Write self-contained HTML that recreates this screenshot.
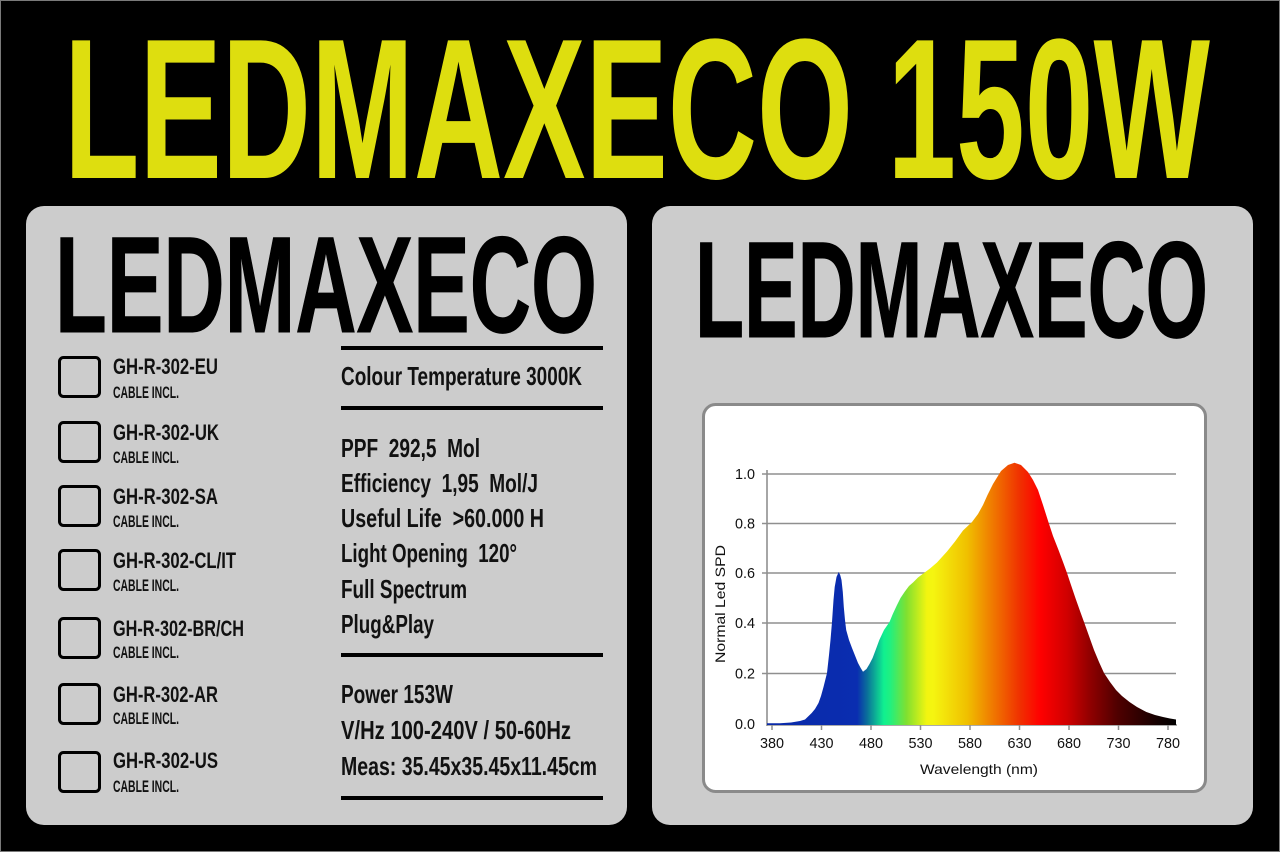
<!DOCTYPE html>
<html><head><meta charset="utf-8"><style>
html,body{margin:0;padding:0;background:#000;}
svg{display:block;}
text{white-space:pre;}
.f{font-family:'Liberation Sans Narrow','Liberation Sans',sans-serif;}
</style></head><body>
<svg width="1280" height="852" viewBox="0 0 1280 852" xmlns="http://www.w3.org/2000/svg">
<defs>
<linearGradient id="spec" gradientUnits="userSpaceOnUse" x1="767" y1="0" x2="1177" y2="0">
<stop offset="0" stop-color="#0a2aa8"/>
<stop offset="0.22" stop-color="#0a2db0"/>
<stop offset="0.244" stop-color="#0a6f9a"/>
<stop offset="0.285" stop-color="#10f090"/>
<stop offset="0.3" stop-color="#20f080"/>
<stop offset="0.34" stop-color="#80e030"/>
<stop offset="0.39" stop-color="#f2f510"/>
<stop offset="0.405" stop-color="#f5f510"/>
<stop offset="0.488" stop-color="#f0c000"/>
<stop offset="0.544" stop-color="#f08000"/>
<stop offset="0.617" stop-color="#f03000"/>
<stop offset="0.666" stop-color="#ff0000"/>
<stop offset="0.732" stop-color="#d00000"/>
<stop offset="0.788" stop-color="#900000"/>
<stop offset="0.854" stop-color="#500000"/>
<stop offset="0.951" stop-color="#150000"/>
<stop offset="1" stop-color="#000000"/>
</linearGradient>
</defs>
<rect x="0" y="0" width="1280" height="852" fill="#000"/>
<rect x="0.5" y="0.5" width="1279" height="851" fill="none" stroke="#7a7a7a" stroke-width="1"/>

<!-- Title -->
<text class="f" x="64" y="178" font-size="200" font-weight="bold" fill="#dede0f" textLength="1146" lengthAdjust="spacingAndGlyphs">LEDMAXECO 150W</text>

<!-- Panels -->
<rect x="26" y="206" width="601" height="619" rx="18" ry="18" fill="#cccccc"/>
<rect x="652" y="206" width="601" height="619" rx="18" ry="18" fill="#cccccc"/>

<!-- Left panel -->
<text class="f" x="55" y="332" font-size="137" font-weight="bold" fill="#000" stroke="#000" stroke-width="1" textLength="542" lengthAdjust="spacingAndGlyphs">LEDMAXECO</text>

<g fill="#000">
<rect x="341" y="346" width="262" height="4"/>
<rect x="341" y="406" width="262" height="4"/>
<rect x="341" y="653" width="262" height="4"/>
<rect x="341" y="796" width="262" height="4"/>
</g>

<g class="f" font-weight="bold" fill="#111" font-size="26">
<text x="341" y="385" textLength="241" lengthAdjust="spacingAndGlyphs">Colour Temperature 3000K</text>
<text x="341" y="457" textLength="139" lengthAdjust="spacingAndGlyphs">PPF  292,5  Mol</text>
<text x="341" y="492" textLength="197" lengthAdjust="spacingAndGlyphs">Efficiency  1,95  Mol/J</text>
<text x="341" y="527" textLength="203" lengthAdjust="spacingAndGlyphs">Useful Life  &gt;60.000 H</text>
<text x="341" y="562" textLength="176" lengthAdjust="spacingAndGlyphs">Light Opening  120°</text>
<text x="341" y="598" textLength="126" lengthAdjust="spacingAndGlyphs">Full Spectrum</text>
<text x="341" y="633" textLength="93" lengthAdjust="spacingAndGlyphs">Plug&amp;Play</text>
<text x="341" y="703" textLength="112" lengthAdjust="spacingAndGlyphs">Power 153W</text>
<text x="341" y="739" textLength="230" lengthAdjust="spacingAndGlyphs">V/Hz 100-240V / 50-60Hz</text>
<text x="341" y="775" textLength="256" lengthAdjust="spacingAndGlyphs">Meas: 35.45x35.45x11.45cm</text>
</g>

<!-- Checkboxes -->
<g fill="none" stroke="#000" stroke-width="3">
<rect x="59.5" y="357.5" width="40" height="39" rx="4"/>
<rect x="59.5" y="422.5" width="40" height="39" rx="4"/>
<rect x="59.5" y="486.5" width="40" height="39" rx="4"/>
<rect x="59.5" y="550.5" width="40" height="39" rx="4"/>
<rect x="59.5" y="618.5" width="40" height="39" rx="4"/>
<rect x="59.5" y="684.5" width="40" height="39" rx="4"/>
<rect x="59.5" y="752.5" width="40" height="39" rx="4"/>
</g>
<g class="f" font-weight="bold" fill="#111" font-size="22">
<text x="113" y="374" textLength="105" lengthAdjust="spacingAndGlyphs">GH-R-302-EU</text>
<text x="113" y="440" textLength="106" lengthAdjust="spacingAndGlyphs">GH-R-302-UK</text>
<text x="113" y="504" textLength="105" lengthAdjust="spacingAndGlyphs">GH-R-302-SA</text>
<text x="113" y="568" textLength="123" lengthAdjust="spacingAndGlyphs">GH-R-302-CL/IT</text>
<text x="113" y="636" textLength="131" lengthAdjust="spacingAndGlyphs">GH-R-302-BR/CH</text>
<text x="113" y="702" textLength="105" lengthAdjust="spacingAndGlyphs">GH-R-302-AR</text>
<text x="113" y="768" textLength="105" lengthAdjust="spacingAndGlyphs">GH-R-302-US</text>
</g>
<g class="f" font-weight="bold" fill="#111" font-size="16.5">
<text x="113" y="398" textLength="66" lengthAdjust="spacingAndGlyphs">CABLE INCL.</text>
<text x="113" y="463" textLength="66" lengthAdjust="spacingAndGlyphs">CABLE INCL.</text>
<text x="113" y="527" textLength="66" lengthAdjust="spacingAndGlyphs">CABLE INCL.</text>
<text x="113" y="591" textLength="66" lengthAdjust="spacingAndGlyphs">CABLE INCL.</text>
<text x="113" y="658" textLength="66" lengthAdjust="spacingAndGlyphs">CABLE INCL.</text>
<text x="113" y="724" textLength="66" lengthAdjust="spacingAndGlyphs">CABLE INCL.</text>
<text x="113" y="792" textLength="66" lengthAdjust="spacingAndGlyphs">CABLE INCL.</text>
</g>

<!-- Right panel -->
<text class="f" x="695" y="337" font-size="137" font-weight="bold" fill="#000" stroke="#000" stroke-width="1" textLength="513" lengthAdjust="spacingAndGlyphs">LEDMAXECO</text>

<!-- Chart frame -->
<rect x="703.5" y="404.5" width="502" height="387" rx="12" ry="12" fill="#ffffff" stroke="#8a8a8a" stroke-width="3"/>

<!-- Grid -->
<g stroke="#8f8f8f" stroke-width="1.6">
<line x1="762" y1="474" x2="1176" y2="474"/>
<line x1="762" y1="523.5" x2="1176" y2="523.5"/>
<line x1="762" y1="573" x2="1176" y2="573"/>
<line x1="762" y1="623" x2="1176" y2="623"/>
<line x1="762" y1="673.5" x2="1176" y2="673.5"/>
<line x1="767" y1="470" x2="767" y2="726"/>
<line x1="767" y1="725" x2="1177" y2="725"/>
</g>
<g stroke="#8f8f8f" stroke-width="1.5">
<line x1="772" y1="725" x2="772" y2="730"/>
<line x1="821.5" y1="725" x2="821.5" y2="730"/>
<line x1="871" y1="725" x2="871" y2="730"/>
<line x1="920.5" y1="725" x2="920.5" y2="730"/>
<line x1="970" y1="725" x2="970" y2="730"/>
<line x1="1019.5" y1="725" x2="1019.5" y2="730"/>
<line x1="1069" y1="725" x2="1069" y2="730"/>
<line x1="1118.5" y1="725" x2="1118.5" y2="730"/>
<line x1="1168" y1="725" x2="1168" y2="730"/>
</g>

<!-- Spectrum -->
<path fill="url(#spec)" d="M767,725 L767,723.3 L780,723.2 L791,722.5 L800,721 L805,719.5 L811.7,713 L815,709 L818.5,703 L821,696 L823.5,687 L825.5,679 L827,673 L829,655 L830.5,640 L832,622 L833.5,600 L834.7,587 L836.5,577 L838.7,572 L840.2,575 L841.5,580 L842.8,592 L843.8,607 L845,620 L846.2,630 L849,640 L852,648 L855.6,657 L858,663 L860.7,668 L863,671.7 L866.5,669 L869.5,664 L872.6,658 L876,649 L879.3,640 L884,630 L889.5,622 L892.8,614 L897,605 L900.5,598 L904.7,591.7 L909,586 L913,582.5 L918,577.5 L923.3,573.5 L930,568.5 L937,562.5 L947,551.5 L955,541.5 L963,530.5 L972,522 L978,514 L983,505 L987.5,495 L993,484 L1001,471 L1008,465 L1014.5,462.7 L1021,465 L1028,472 L1033,480 L1038,490 L1043,505 L1048.4,522 L1053,536 L1058.5,550 L1063,562 L1067,573 L1071,585 L1075.4,598 L1080,611 L1084,622 L1089,636 L1094,650 L1099,662 L1104,673 L1110,682 L1116,690 L1122,696 L1129.5,702 L1137,707 L1146.4,712 L1155,715 L1163,717 L1170,718.5 L1176,719.5 L1176,725 Z"/>

<!-- Axis labels -->
<g class="f" font-size="15" fill="#111" text-anchor="end">
<text x="755" y="479" textLength="20" lengthAdjust="spacingAndGlyphs">1.0</text>
<text x="755" y="528.5" textLength="20" lengthAdjust="spacingAndGlyphs">0.8</text>
<text x="755" y="578" textLength="20" lengthAdjust="spacingAndGlyphs">0.6</text>
<text x="755" y="628" textLength="20" lengthAdjust="spacingAndGlyphs">0.4</text>
<text x="755" y="678.5" textLength="20" lengthAdjust="spacingAndGlyphs">0.2</text>
<text x="755" y="729" textLength="20" lengthAdjust="spacingAndGlyphs">0.0</text>
</g>
<g class="f" font-size="15" fill="#111" text-anchor="middle">
<text x="772" y="748" textLength="24" lengthAdjust="spacingAndGlyphs">380</text>
<text x="821.5" y="748" textLength="24" lengthAdjust="spacingAndGlyphs">430</text>
<text x="871" y="748" textLength="24" lengthAdjust="spacingAndGlyphs">480</text>
<text x="920.5" y="748" textLength="24" lengthAdjust="spacingAndGlyphs">530</text>
<text x="970" y="748" textLength="24" lengthAdjust="spacingAndGlyphs">580</text>
<text x="1019.5" y="748" textLength="24" lengthAdjust="spacingAndGlyphs">630</text>
<text x="1069" y="748" textLength="24" lengthAdjust="spacingAndGlyphs">680</text>
<text x="1118.5" y="748" textLength="24" lengthAdjust="spacingAndGlyphs">730</text>
<text x="1168" y="748" textLength="24" lengthAdjust="spacingAndGlyphs">780</text>
<text x="979" y="774" font-size="14" textLength="118" lengthAdjust="spacingAndGlyphs">Wavelength (nm)</text>
<text x="0" y="0" font-size="14" textLength="118" lengthAdjust="spacingAndGlyphs" transform="translate(725,604) rotate(-90)">Normal Led SPD</text>
</g>
</svg>
</body></html>
